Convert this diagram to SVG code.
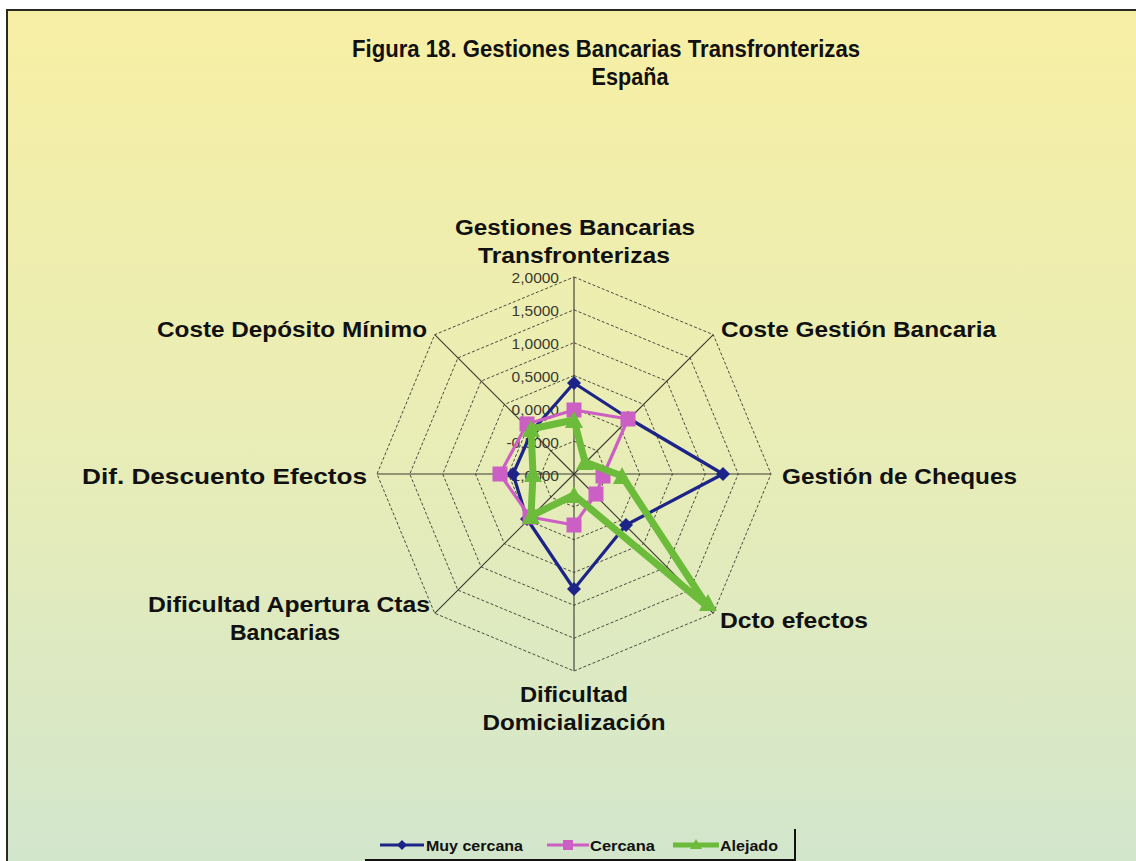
<svg xmlns="http://www.w3.org/2000/svg" xmlns:xlink="http://www.w3.org/1999/xlink" width="1136" height="861" viewBox="0 0 1136 861">
<style>
.lbl{font-family:"Liberation Sans",Arial,sans-serif;font-weight:bold;font-size:22px;fill:#111}
.ttl{font-family:"Liberation Sans",Arial,sans-serif;font-weight:bold;font-size:23px;fill:#111}
.tick{font-family:"Liberation Sans",Arial,sans-serif;font-size:15.5px;fill:#3a3a30;text-anchor:end}
.leg{font-family:"Liberation Sans",Arial,sans-serif;font-weight:bold;font-size:14px;fill:#111}
.grid{fill:none;stroke:#3a3a30;stroke-width:0.9;stroke-dasharray:3 2}
.axis{stroke:#3a3a30;stroke-width:1.1}
.blue{fill:none;stroke:#1c2487;stroke-width:3.2;stroke-linejoin:round}
.pink{fill:none;stroke:#cc5fc4;stroke-width:3.2;stroke-linejoin:round}
.green{fill:none;stroke:#6cbb3a;stroke-width:7;stroke-linejoin:round}
</style>
<defs>
<linearGradient id="bg" x1="0" y1="0" x2="0" y2="1">
<stop offset="0" stop-color="#f7efa4"/>
<stop offset="0.5" stop-color="#e9edb6"/>
<stop offset="1" stop-color="#d2e6cc"/>
</linearGradient>
<path id="dia" d="M0,-7 L7,0 L0,7 L-7,0 Z" fill="#1c2487"/>
<rect id="sq" x="-7.5" y="-7.5" width="15" height="15" fill="#cc5fc4"/>
<path id="tri" d="M0,-9 L9,8 L-9,8 Z" fill="#6cbb3a"/>
</defs>
<rect x="0" y="0" width="1136" height="861" fill="#ffffff"/>
<rect x="7" y="10" width="1129" height="851" fill="url(#bg)"/>
<path d="M7,861 L7,10 L1136,10" fill="none" stroke="#2a2a20" stroke-width="2"/>

<g id="title">
<text class="ttl" x="606" y="57" text-anchor="middle" textLength="508" lengthAdjust="spacingAndGlyphs">Figura 18. Gestiones Bancarias Transfronterizas</text>
<text class="ttl" x="630" y="85" text-anchor="middle" textLength="77" lengthAdjust="spacingAndGlyphs">España</text>
</g>

<g id="grid">
<polygon class="grid" points="574,277 713.3,334.7 771,474 713.3,613.3 574,671 434.7,613.3 377,474 434.7,334.7"/>
<polygon class="grid" points="574,309.8 690.1,357.9 738.2,474 690.1,590.1 574,638.2 457.9,590.1 409.8,474 457.9,357.9"/>
<polygon class="grid" points="574,342.7 666.9,381.1 705.3,474 666.9,566.9 574,605.3 481.1,566.9 442.7,474 481.1,381.1"/>
<polygon class="grid" points="574,375.5 643.7,404.4 672.5,474 643.7,543.7 574,572.5 504.4,543.7 475.5,474 504.4,404.4"/>
<polygon class="grid" points="574,408.3 620.4,427.6 639.7,474 620.4,520.4 574,539.7 527.6,520.4 508.3,474 527.6,427.6"/>
<polygon class="grid" points="574,441.2 597.2,450.8 606.8,474 597.2,497.2 574,506.8 550.8,497.2 541.2,474 550.8,450.8"/>
<g class="axis">
<line x1="574" y1="474" x2="574" y2="277"/>
<line x1="574" y1="474" x2="713.3" y2="334.7"/>
<line x1="574" y1="474" x2="771" y2="474"/>
<line x1="574" y1="474" x2="713.3" y2="613.3"/>
<line x1="574" y1="474" x2="574" y2="671"/>
<line x1="574" y1="474" x2="434.7" y2="613.3"/>
<line x1="574" y1="474" x2="377" y2="474"/>
<line x1="574" y1="474" x2="434.7" y2="334.7"/>
</g>
</g>

<g id="ticks">
<text class="tick" x="559" y="283">2,0000</text>
<text class="tick" x="559" y="316">1,5000</text>
<text class="tick" x="559" y="349">1,0000</text>
<text class="tick" x="559" y="382">0,5000</text>
<text class="tick" x="559" y="415">0,0000</text>
<text class="tick" x="559" y="448">-0,5000</text>
<text class="tick" x="559" y="481">-1,0000</text>
</g>

<g id="axis-labels">
<text class="lbl" x="575" y="235" text-anchor="middle" textLength="240" lengthAdjust="spacingAndGlyphs">Gestiones Bancarias</text>
<text class="lbl" x="574" y="263" text-anchor="middle" textLength="192" lengthAdjust="spacingAndGlyphs">Transfronterizas</text>
<text class="lbl" x="721" y="337" textLength="275" lengthAdjust="spacingAndGlyphs">Coste Gestión Bancaria</text>
<text class="lbl" x="782" y="484" textLength="235" lengthAdjust="spacingAndGlyphs">Gestión de Cheques</text>
<text class="lbl" x="720" y="628" textLength="148" lengthAdjust="spacingAndGlyphs">Dcto efectos</text>
<text class="lbl" x="574" y="702" text-anchor="middle" textLength="108" lengthAdjust="spacingAndGlyphs">Dificultad</text>
<text class="lbl" x="574" y="730" text-anchor="middle" textLength="183" lengthAdjust="spacingAndGlyphs">Domicialización</text>
<text class="lbl" x="148" y="612" textLength="282" lengthAdjust="spacingAndGlyphs">Dificultad Apertura Ctas</text>
<text class="lbl" x="285" y="640" text-anchor="middle" textLength="110" lengthAdjust="spacingAndGlyphs">Bancarias</text>
<text class="lbl" x="82" y="484" textLength="285" lengthAdjust="spacingAndGlyphs">Dif. Descuento Efectos</text>
<text class="lbl" x="157" y="337" textLength="270" lengthAdjust="spacingAndGlyphs">Coste Depósito Mínimo</text>
</g>

<g id="series-muy-cercana">
<polygon class="blue" points="574,383 628,418 723,474 626,525 574,589 527,519 513,474 532,431"/>
<use xlink:href="#dia" x="574" y="383"/><use xlink:href="#dia" x="628" y="418"/><use xlink:href="#dia" x="723" y="474"/><use xlink:href="#dia" x="626" y="525"/>
<use xlink:href="#dia" x="574" y="589"/><use xlink:href="#dia" x="527" y="519"/><use xlink:href="#dia" x="513" y="474"/><use xlink:href="#dia" x="532" y="431"/>
</g>
<g id="series-cercana">
<polygon class="pink" points="574,410 628,419 603,476 596,494 574,525 530,517 500,474 527,424"/>
<use xlink:href="#sq" x="574" y="410"/><use xlink:href="#sq" x="628" y="419"/><use xlink:href="#sq" x="603" y="476"/><use xlink:href="#sq" x="596" y="494"/>
<use xlink:href="#sq" x="574" y="525"/><use xlink:href="#sq" x="530" y="517"/><use xlink:href="#sq" x="500" y="474"/><use xlink:href="#sq" x="527" y="424"/>
</g>
<g id="series-alejado">
<polygon class="green" points="574,420 585,462 622,476 708,607 574,495 531,516 533,474 531,429"/>
<use xlink:href="#tri" x="574" y="420"/><use xlink:href="#tri" x="585" y="462"/><use xlink:href="#tri" x="622" y="476"/><use xlink:href="#tri" x="708" y="603"/>
<use xlink:href="#tri" x="574" y="495"/><use xlink:href="#tri" x="531" y="516"/><use xlink:href="#tri" x="533" y="474"/><use xlink:href="#tri" x="531" y="429"/>
</g>

<g id="legend">
<path d="M795,829 L795,860 L365,860" fill="none" stroke="#111" stroke-width="2"/>
<line x1="380" y1="845" x2="424" y2="845" stroke="#1c2487" stroke-width="3"/>
<path d="M402,840 L407,845 L402,850 L397,845 Z" fill="#1c2487"/>
<text class="leg" x="426" y="851" textLength="97" lengthAdjust="spacingAndGlyphs">Muy cercana</text>
<line x1="547" y1="845" x2="589" y2="845" stroke="#cc5fc4" stroke-width="3"/>
<rect x="563" y="840" width="10" height="10" fill="#cc5fc4"/>
<text class="leg" x="590" y="851" textLength="65" lengthAdjust="spacingAndGlyphs">Cercana</text>
<line x1="673" y1="845" x2="719" y2="845" stroke="#6cbb3a" stroke-width="5"/>
<path d="M696,839 L702,849 L690,849 Z" fill="#6cbb3a"/>
<text class="leg" x="720" y="851" textLength="58" lengthAdjust="spacingAndGlyphs">Alejado</text>
</g>
</svg>
